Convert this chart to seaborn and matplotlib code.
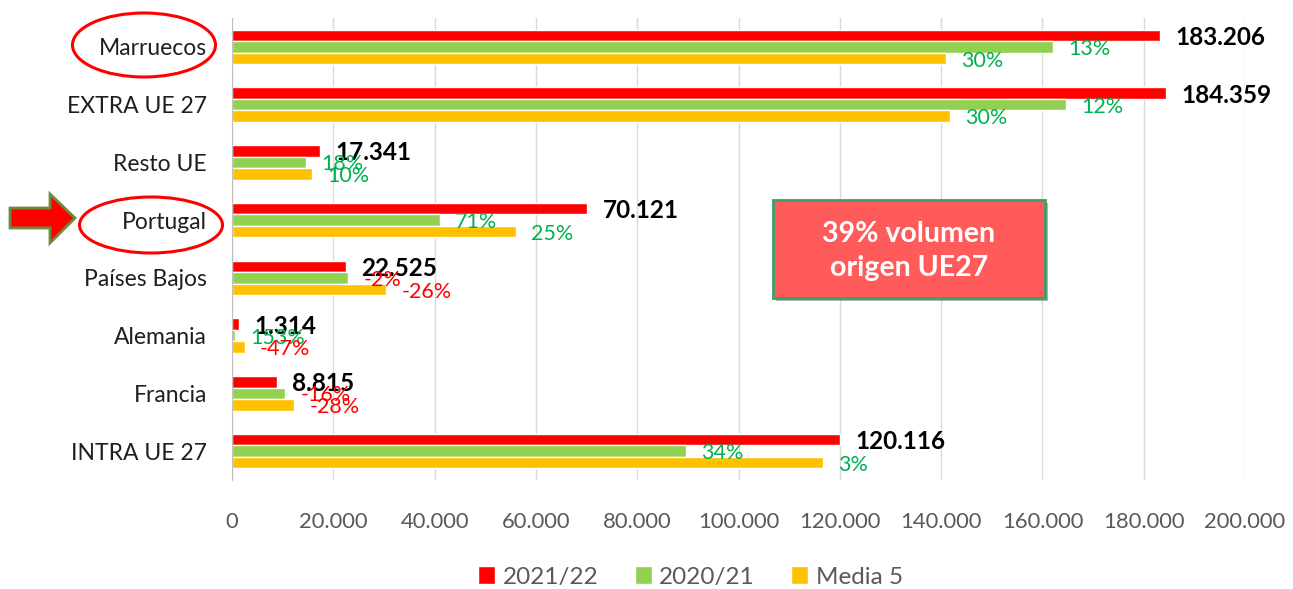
import numpy as np
import pandas as pd
import seaborn as sns
import matplotlib.pyplot as plt
from matplotlib.patches import Ellipse, Rectangle, Polygon

# datos (toneladas)
categorias = ["Marruecos", "EXTRA UE 27", "Resto UE", "Portugal",
              "Países Bajos", "Alemania", "Francia", "INTRA UE 27"]
series = ["2021/22", "2020/21", "Media 5"]
colores = ["#FF0000", "#92D050", "#FFC000"]

v_2122 = [183206, 184359, 17341, 70121, 22525, 1314, 8815, 120116]
v_2021 = [162130, 164610, 14700, 41010, 22985, 520, 10495, 89640]
v_media5 = [140930, 141815, 15765, 56100, 30440, 2480, 12245, 116620]

pct_2021 = [13, 12, 18, 71, -2, 153, -16, 34]
pct_media5 = [30, 30, 10, 25, -26, -47, -28, 3]

sns.set_style("white")
plt.rcParams["font.family"] = ["Lato", "DejaVu Sans"]

df = pd.DataFrame({
    "pais": categorias * 3,
    "serie": [s for s in series for _ in categorias],
    "valor": v_2122 + v_2021 + v_media5,
})

W, H = 1293, 589
fig = plt.figure(figsize=(W / 100, H / 100), dpi=100)
ax = fig.add_axes([232 / W, 1 - 480 / H, (1245 - 232) / W, 462 / H])

sns.barplot(data=df, y="pais", x="valor", hue="serie", hue_order=series,
            order=categorias, palette=colores, orient="h", width=0.6,
            saturation=1, errorbar=None, ax=ax)

# etiquetas de valor
for i, bar in enumerate(ax.containers[0]):
    ax.annotate(f"{v_2122[i]:,}".replace(",", "."),
                (bar.get_width(), bar.get_y() + bar.get_height() / 2),
                xytext=(11, -1.5), textcoords="offset points",
                ha="left", va="center", fontsize=17.5, fontweight="bold",
                color="black")

for cont, pcts in [(ax.containers[1], pct_2021), (ax.containers[2], pct_media5)]:
    for bar, p in zip(cont, pcts):
        ax.annotate(f"{p}%",
                    (bar.get_width(), bar.get_y() + bar.get_height() / 2),
                    xytext=(11, -1.5), textcoords="offset points",
                    ha="left", va="center", fontsize=15.5,
                    color="#00B050" if p > 0 else "#FF0000")

ax.set_xlim(0, 200000)
ticks = list(range(0, 200001, 20000))
ax.set_xticks(ticks)
ax.set_xticklabels([f"{t:,}".replace(",", ".") for t in ticks])
ax.xaxis.grid(True, color="#D9D9D9", lw=1)
ax.set_axisbelow(True)
for s in ["top", "right", "bottom"]:
    ax.spines[s].set_visible(False)
ax.spines["left"].set_color("#BFBFBF")
ax.tick_params(axis="x", length=0, pad=23, labelsize=15.8, labelcolor="#595959")
ax.tick_params(axis="y", length=0, pad=18, labelsize=16.5, labelcolor="#1F1F1F")
ax.set_xlabel("")
ax.set_ylabel("")

handles, labels = ax.get_legend_handles_labels()
ax.get_legend().remove()
fig.legend(handles, labels, loc="center", bbox_to_anchor=(0.534, 1 - 577 / H),
           ncol=3, frameon=False, fontsize=17.5, handlelength=0.7,
           handleheight=0.7, handletextpad=0.3, columnspacing=1.5,
           labelcolor="#595959")

# recuadro
fig.add_artist(Rectangle((776 / W, 1 - 301 / H), 272 / W, 98 / H,
                         transform=fig.transFigure, facecolor="#7F7F7F",
                         edgecolor="none", alpha=0.6))
fig.add_artist(Rectangle((773 / W, 1 - 298 / H), 272 / W, 98 / H,
                         transform=fig.transFigure, facecolor="#FF5B5B",
                         edgecolor="#3A9F6A", lw=2))
fig.text(909 / W, 1 - 251 / H, "39% volumen\norigen UE27", ha="center",
         va="center", color="white", fontsize=20.5, fontweight="bold",
         linespacing=1.4)

# elipses y flecha
for cx, cy, w, h in [(144, 45, 143, 64), (151, 225, 143, 56)]:
    fig.add_artist(Ellipse((cx / W, 1 - cy / H), w / W, h / H,
                           transform=fig.transFigure, fill=False,
                           edgecolor="#FF0000", lw=2.2))

pts = [(10, 208), (50, 208), (50, 194), (75, 218), (50, 243), (50, 228), (10, 228)]
fig.add_artist(Polygon([(x / W, 1 - y / H) for x, y in pts], closed=True,
                       transform=fig.transFigure, facecolor="#FF0000",
                       edgecolor="#6E8B3D", lw=2))

fig.savefig("out.png", dpi=100)
